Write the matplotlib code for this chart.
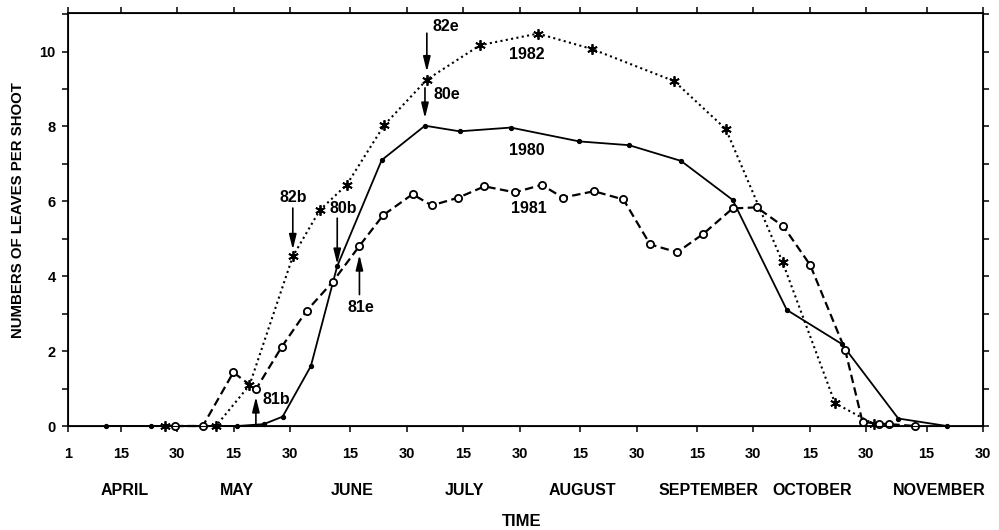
import matplotlib
matplotlib.use("Agg")
import matplotlib.pyplot as plt
from matplotlib.ticker import FixedLocator, MultipleLocator

plt.rcParams['font.family'] = ['Liberation Sans', 'DejaVu Sans']
plt.rcParams['font.weight'] = 'bold'

# Days counted from 1 April
days_1980 = [10, 22, 45, 52, 57, 64.5, 71.5, 83.3, 94.8, 104, 117.6, 135.8, 149,
             162.8, 176.5, 190.9, 205.5, 220.5, 233.4]
leaves_1980 = [0, 0, 0, 0.05, 0.25, 1.6, 4.27, 7.1, 8.02, 7.87, 7.97, 7.6, 7.5,
               7.08, 6.04, 3.1, 2.19, 0.2, 0]

days_1981 = [28.4, 35.8, 43.9, 49.9, 56.8, 63.4, 70.3, 77.4, 83.7, 91.5, 96.6,
             103.7, 110.6, 118.7, 125.8, 131.4, 139.7, 147.5, 154.6, 161.8, 168.7,
             176.5, 182.9, 190, 197.1, 206.4, 211, 215.5, 218, 225]
leaves_1981 = [0, 0, 1.43, 0.98, 2.12, 3.08, 3.85, 4.81, 5.63, 6.19, 5.89,
               6.1, 6.4, 6.24, 6.44, 6.1, 6.27, 6.05, 4.85, 4.64, 5.13,
               5.81, 5.84, 5.33, 4.3, 2.03, 0.11, 0.06, 0.05, 0]

days_1982 = [25.8, 39.3, 48.2, 59.7, 66.9, 74, 84, 95.3, 109.4, 124.8, 139.1,
             161, 174.7, 189.8, 203.7, 214]
leaves_1982 = [0, 0, 1.09, 4.53, 5.77, 6.44, 8.04, 9.25, 10.17, 10.48, 10.07,
               9.21, 7.93, 4.37, 0.61, 0.05]

tick_days = [0, 14, 29, 44, 59, 75, 90, 105, 120, 136, 151, 167, 182, 197, 212, 228, 243]
tick_labels = ['1', '15', '30', '15', '30', '15', '30', '15', '30', '15', '30',
               '15', '30', '15', '30', '15', '30']
months = ['APRIL', 'MAY', 'JUNE', 'JULY', 'AUGUST', 'SEPTEMBER', 'OCTOBER', 'NOVEMBER']
month_x = [15.1, 44.9, 75.4, 105.4, 136.5, 170.0, 197.6, 231.3]

fig = plt.figure(figsize=(9.99, 5.30), dpi=100)
ax = fig.add_axes([68 / 999, 1 - 426 / 530, (983 - 68) / 999, (426 - 13) / 530])

ax.plot(days_1980, leaves_1980, color='black', lw=1.3, ls='-',
        marker='o', ms=2.8, mfc='black', mec='black', clip_on=False, zorder=3)
ax.plot(days_1981, leaves_1981, color='black', lw=1.6, ls=(0, (3.8, 2.0)),
        marker='o', ms=5.2, mfc='white', mec='black', mew=1.3, clip_on=False, zorder=4)
ax.plot(days_1982, leaves_1982, color='black', lw=1.5, ls=(0, (1, 1.6)),
        marker=(6, 2, 0), ms=7.5, mec='black', mew=1.3, clip_on=False, zorder=3)

ax.set_xlim(0, 243)
ax.set_ylim(0, 11.03)

ax.xaxis.set_major_locator(FixedLocator(tick_days))
ax.set_xticklabels(tick_labels)
ax.yaxis.set_major_locator(MultipleLocator(2))
ax.yaxis.set_minor_locator(MultipleLocator(1))

ax.tick_params(axis='x', which='both', direction='out', length=4, width=1.1,
               top=True, labelsize=10.5, pad=11)
ax.tick_params(axis='y', which='both', direction='out', length=4, width=1.1,
               labelsize=10.5, pad=5)
for spine in ax.spines.values():
    spine.set_linewidth(1.3)

# right-hand scale: unlabeled ticks at every unit
ax_r = ax.twinx()
ax_r.set_ylim(ax.get_ylim())
ax_r.yaxis.set_major_locator(MultipleLocator(1))
ax_r.tick_params(axis='y', direction='out', length=4, width=1.1, labelright=False)

# month names under the day labels
for name, x in zip(months, month_x):
    ax.text(x, -0.155, name, transform=ax.get_xaxis_transform(),
            ha='center', va='center', fontsize=11.5, fontweight='bold')

fig.text(0.5225, 1 - 521 / 530, 'TIME', ha='center', va='center',
         fontsize=12, fontweight='bold')
fig.text(18 / 999, 1 - 210 / 530, 'NUMBERS OF LEAVES PER SHOOT', rotation=90,
         ha='center', va='center', fontsize=10.8, fontweight='bold')

# year labels beside the curves
ax.text(121.8, 9.91, '1982', ha='center', va='center', fontsize=11.5, fontweight='bold')
ax.text(121.8, 7.35, '1980', ha='center', va='center', fontsize=11.5, fontweight='bold')
ax.text(122.3, 5.81, '1981', ha='center', va='center', fontsize=11.5, fontweight='bold')

# begin (b) and end (e) markers of each season
arrow_props = dict(arrowstyle='-|>,head_length=0.9,head_width=0.22',
                   mutation_scale=10, color='black', lw=1.2, shrinkA=0, shrinkB=0)

def mark(label, day, tip, tail, text_xy):
    ax.annotate('', xy=(day, tip), xytext=(day, tail), arrowprops=arrow_props, zorder=5)
    ax.text(text_xy[0], text_xy[1], label, ha='center', va='center',
            fontsize=11.5, fontweight='bold', zorder=6)

x82b, y82b = days_1982[3], leaves_1982[3]
mark('82b', x82b, y82b + 0.18, y82b + 1.29, (x82b, y82b + 1.58))
x80b, y80b = days_1980[6], leaves_1980[6]
mark('80b', x80b, y80b + 0.05, y80b + 1.28, (x80b + 1.6, y80b + 1.55))
x81e, y81e = days_1981[7], leaves_1981[7]
mark('81e', x81e, y81e - 0.24, y81e - 1.3, (x81e + 0.5, y81e - 1.64))
x82e, y82e = days_1982[7], leaves_1982[7]
mark('82e', x82e, y82e + 0.21, y82e + 1.24, (x82e + 5.0, y82e + 1.41))
x80e, y80e = days_1980[8], leaves_1980[8]
mark('80e', x80e, y80e + 0.2, y80e + 1.01, (x80e + 5.8, y80e + 0.84))
x81b, y81b = days_1981[3], leaves_1981[3]
mark('81b', x81b, y81b - 0.2, 0, (x81b + 5.3, 0.71))

fig.savefig('out.png', dpi=100, facecolor='white')
